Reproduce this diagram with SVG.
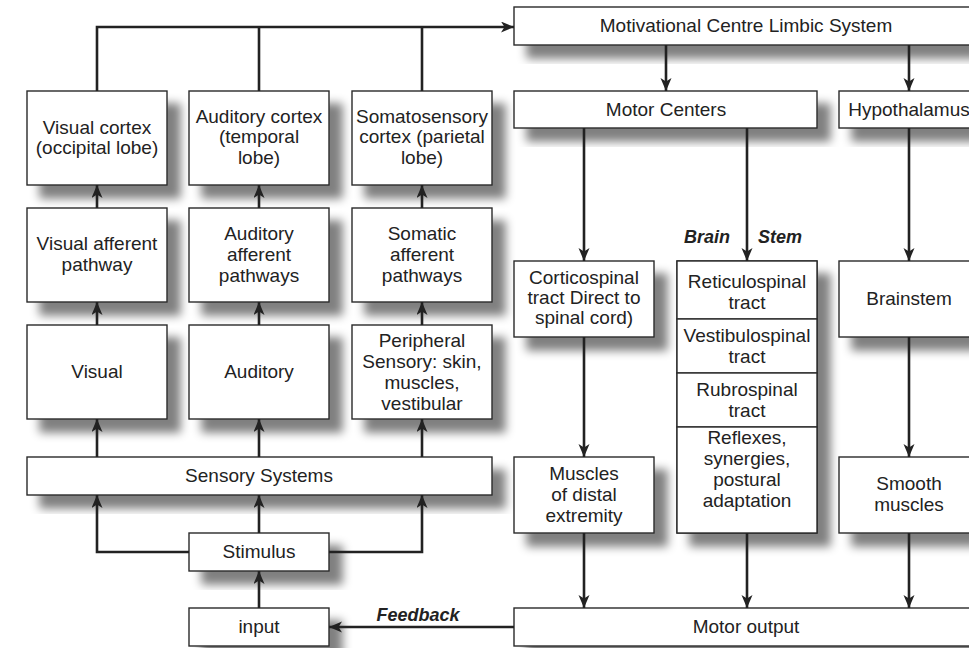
<svg xmlns="http://www.w3.org/2000/svg" width="969" height="648" viewBox="0 0 969 648">
<style>
.box{fill:#fff;stroke:#2a2a2a;stroke-width:1.4}
.sh{filter:url(#shadow)}
text{font-family:"Liberation Sans",Arial,sans-serif;font-size:19px;fill:#222;text-anchor:middle}
.lbl{font-weight:bold;font-style:italic;font-size:18px}
.con{fill:none;stroke:#222;stroke-width:2.6}
</style>
<defs>
<filter id="shadow" x="-20%" y="-30%" width="150%" height="180%">
<feGaussianBlur in="SourceAlpha" stdDeviation="5"/>
<feOffset dx="13" dy="13" result="b"/>
<feComponentTransfer><feFuncA type="linear" slope="0.5"/></feComponentTransfer>
<feMerge><feMergeNode/><feMergeNode in="SourceGraphic"/></feMerge>
</filter>
<marker id="ah" markerUnits="userSpaceOnUse" markerWidth="14" markerHeight="12" refX="13" refY="5.5" orient="auto">
<path d="M0,0 L13,5.5 L0,11 L3.5,5.5 z" fill="#222"/>
</marker>
</defs>

<g id="visual-cortex"><rect class="box sh" x="27" y="91" width="140" height="94"/><text x="97" y="134">Visual cortex</text><text x="97" y="154">(occipital lobe)</text></g>
<g id="auditory-cortex"><rect class="box sh" x="189" y="91" width="140" height="94"/><text x="259" y="123">Auditory cortex</text><text x="259" y="143">(temporal</text><text x="259" y="164">lobe)</text></g>
<g id="somatosensory-cortex"><rect class="box sh" x="352" y="91" width="140" height="94"/><text x="422" y="123">Somatosensory</text><text x="422" y="143">cortex (parietal</text><text x="422" y="164">lobe)</text></g>

<g id="visual-afferent"><rect class="box sh" x="27" y="208" width="140" height="94"/><text x="97" y="250">Visual afferent</text><text x="97" y="271">pathway</text></g>
<g id="auditory-afferent"><rect class="box sh" x="189" y="208" width="140" height="94"/><text x="259" y="240">Auditory</text><text x="259" y="261">afferent</text><text x="259" y="282">pathways</text></g>
<g id="somatic-afferent"><rect class="box sh" x="352" y="208" width="140" height="94"/><text x="422" y="240">Somatic</text><text x="422" y="261">afferent</text><text x="422" y="282">pathways</text></g>

<g id="visual"><rect class="box sh" x="27" y="325" width="140" height="94"/><text x="97" y="378">Visual</text></g>
<g id="auditory"><rect class="box sh" x="189" y="325" width="140" height="94"/><text x="259" y="378">Auditory</text></g>
<g id="peripheral"><rect class="box sh" x="352" y="325" width="140" height="94"/><text x="422" y="347">Peripheral</text><text x="422" y="368">Sensory: skin,</text><text x="422" y="389">muscles,</text><text x="422" y="410">vestibular</text></g>

<g id="sensory-systems"><rect class="box sh" x="27" y="457" width="465" height="38"/><text x="259" y="482">Sensory Systems</text></g>
<g id="stimulus"><rect class="box sh" x="189" y="533" width="140" height="38"/><text x="259" y="558">Stimulus</text></g>
<g id="input"><rect class="box sh" x="189" y="608" width="140" height="38"/><text x="259" y="633">input</text></g>

<g id="motivational"><rect class="box sh" x="514" y="7" width="465" height="38"/><text x="746" y="32">Motivational Centre Limbic System</text></g>
<g id="motor-centers"><rect class="box sh" x="514" y="91" width="303" height="37"/><text x="666" y="116">Motor Centers</text></g>
<g id="hypothalamus"><rect class="box sh" x="839" y="91" width="140" height="37"/><text x="909" y="116">Hypothalamus</text></g>

<g id="corticospinal"><rect class="box sh" x="514" y="261" width="140" height="76"/><text x="584" y="284">Corticospinal</text><text x="584" y="304">tract Direct to</text><text x="584" y="324">spinal cord)</text></g>
<g id="brain-stem-stack"><rect class="box sh" x="677" y="261" width="140" height="272"/></g>
<g id="reticulospinal"><rect class="box" x="677" y="261" width="140" height="58"/><text x="747" y="288">Reticulospinal</text><text x="747" y="309">tract</text></g>
<g id="vestibulospinal"><rect class="box" x="677" y="319" width="140" height="54"/><text x="747" y="342">Vestibulospinal</text><text x="747" y="363">tract</text></g>
<g id="rubrospinal"><rect class="box" x="677" y="373" width="140" height="54"/><text x="747" y="396">Rubrospinal</text><text x="747" y="417">tract</text></g>
<g id="reflexes"><rect class="box" x="677" y="427" width="140" height="106"/><text x="747" y="444">Reflexes,</text><text x="747" y="465">synergies,</text><text x="747" y="486">postural</text><text x="747" y="507">adaptation</text></g>
<g id="brainstem"><rect class="box sh" x="839" y="261" width="140" height="76"/><text x="909" y="305">Brainstem</text></g>

<g id="muscles-distal"><rect class="box sh" x="514" y="457" width="140" height="76"/><text x="584" y="480">Muscles</text><text x="584" y="501">of distal</text><text x="584" y="522">extremity</text></g>
<g id="smooth-muscles"><rect class="box sh" x="839" y="457" width="140" height="76"/><text x="909" y="490">Smooth</text><text x="909" y="511">muscles</text></g>
<g id="motor-output"><rect class="box sh" x="514" y="608" width="465" height="38"/><text x="746" y="633">Motor output</text></g>

<g id="connectors">
<path class="con" d="M97,91 V27 H514" marker-end="url(#ah)"/>
<path class="con" d="M259,91 V27"/>
<path class="con" d="M422,91 V27"/>
<path class="con" d="M97,208 V185" marker-end="url(#ah)"/>
<path class="con" d="M259,208 V185" marker-end="url(#ah)"/>
<path class="con" d="M422,208 V185" marker-end="url(#ah)"/>
<path class="con" d="M97,325 V302" marker-end="url(#ah)"/>
<path class="con" d="M259,325 V302" marker-end="url(#ah)"/>
<path class="con" d="M422,325 V302" marker-end="url(#ah)"/>
<path class="con" d="M97,457 V419" marker-end="url(#ah)"/>
<path class="con" d="M259,457 V419" marker-end="url(#ah)"/>
<path class="con" d="M422,457 V419" marker-end="url(#ah)"/>
<path class="con" d="M259,533 V495" marker-end="url(#ah)"/>
<path class="con" d="M189,552 H97 V495" marker-end="url(#ah)"/>
<path class="con" d="M329,552 H422 V495" marker-end="url(#ah)"/>
<path class="con" d="M259,608 V571" marker-end="url(#ah)"/>
<path class="con" d="M514,627 H329" marker-end="url(#ah)"/>
<path class="con" d="M666,45 V91" marker-end="url(#ah)"/>
<path class="con" d="M909,45 V91" marker-end="url(#ah)"/>
<path class="con" d="M584,128 V261" marker-end="url(#ah)"/>
<path class="con" d="M747,128 V261" marker-end="url(#ah)"/>
<path class="con" d="M909,128 V261" marker-end="url(#ah)"/>
<path class="con" d="M584,337 V457" marker-end="url(#ah)"/>
<path class="con" d="M909,337 V457" marker-end="url(#ah)"/>
<path class="con" d="M584,533 V608" marker-end="url(#ah)"/>
<path class="con" d="M747,533 V608" marker-end="url(#ah)"/>
<path class="con" d="M909,533 V608" marker-end="url(#ah)"/>
</g>
<text class="lbl" x="707" y="243">Brain</text>
<text class="lbl" x="780" y="243">Stem</text>
<text class="lbl" x="418" y="621">Feedback</text>
</svg>
